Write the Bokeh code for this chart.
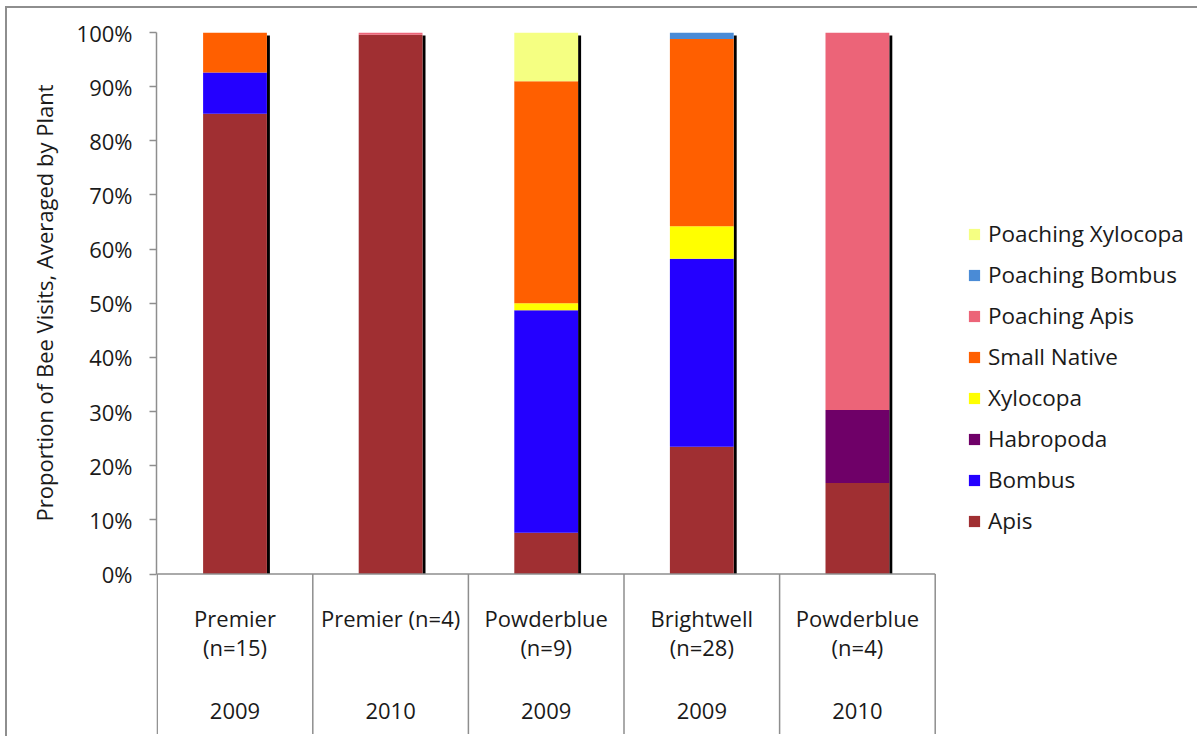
from bokeh.plotting import figure
from bokeh.models import (Range1d, FixedTicker, PrintfTickFormatter, ColumnDataSource,
                          Legend, LegendItem, Title)
from bokeh.core.properties import value
from bokeh.embed import file_html
from bokeh.resources import INLINE

# Plantings: cultivar, number of plants, year
cultivars = ["Premier", "Premier", "Powderblue", "Brightwell", "Powderblue"]
sample_sizes = [15, 4, 9, 28, 4]
years = ["2009", "2010", "2009", "2009", "2010"]

# Share of bee visits (%) per visitor group
series = ["Apis", "Bombus", "Habropoda", "Xylocopa", "Small Native",
          "Poaching Apis", "Poaching Bombus", "Poaching Xylocopa"]
apis = [85.0, 99.6, 7.6, 23.5, 16.8]
bombus = [7.6, 0.0, 41.1, 34.7, 0.0]
habropoda = [0.0, 0.0, 0.0, 0.0, 13.5]
xylocopa = [0.0, 0.0, 1.3, 6.0, 0.0]
small_native = [7.4, 0.0, 41.0, 34.6, 0.0]
poaching_apis = [0.0, 0.4, 0.0, 0.0, 69.7]
poaching_bombus = [0.0, 0.0, 0.0, 1.2, 0.0]
poaching_xylocopa = [0.0, 0.0, 9.0, 0.0, 0.0]

colors = ["#A02F32", "#2400FF", "#6F0068", "#FFFF00", "#FF5F00",
          "#EC6478", "#4A8BD6", "#F5FF82"]

y_title = "Proportion of Bee Visits, Averaged by Plant"

FONT = "Open Sans"
TEXT = "#1a1a1a"
RULE = "#8e8e8e"

# canvas geometry (px)
W, H = 1192, 730
FRAME_LEFT, FRAME_TOP = 149, 24
SLOT_PX = 155.6          # width of one category column
PX_PER_PCT = 5.415       # vertical scale
X0_SHIFT = 0.7           # keeps the x=0 rule inside the frame

n = len(cultivars)
xs = [i + 0.5 for i in range(n)]
bar_w = 0.41

frame_w = W - FRAME_LEFT
frame_h = H - FRAME_TOP
x_start = -X0_SHIFT / SLOT_PX
x_end = x_start + frame_w / SLOT_PX
y_end = 100
y_start = y_end - frame_h / PX_PER_PCT


def px_y(px):
    """vertical pixel distance expressed in percent units"""
    return px / PX_PER_PCT


# Category captions: wrap long ones onto two lines
line1, line2 = [], []
for c, s in zip(cultivars, sample_sizes):
    full = f"{c} (n={s})"
    if len(full) > 13:
        line1.append(c)
        line2.append(f"(n={s})")
    else:
        line1.append(full)
        line2.append("")

data = dict(x=xs, Apis=apis, Bombus=bombus, Habropoda=habropoda, Xylocopa=xylocopa)
data["Small Native"] = small_native
data["Poaching Apis"] = poaching_apis
data["Poaching Bombus"] = poaching_bombus
data["Poaching Xylocopa"] = poaching_xylocopa
source = ColumnDataSource(data)

p = figure(width=W, height=H, output_backend="svg", toolbar_location=None,
           x_range=Range1d(x_start, x_end), y_range=Range1d(y_start, y_end),
           x_axis_location=None,
           min_border_left=FRAME_LEFT, min_border_right=0, min_border_top=FRAME_TOP,
           min_border_bottom=0)
p.margin = (6, 0, 0, 5)
p.styles = {"border-top": f"2px solid {RULE}", "border-left": f"2px solid {RULE}"}
p.outline_line_color = None
p.xgrid.visible = False
p.ygrid.visible = False
p.background_fill_color = "white"
p.border_fill_color = "white"

# drop shadow on the right side of each column
totals = [sum(v) for v in zip(apis, bombus, habropoda, xylocopa, small_native,
                              poaching_apis, poaching_bombus, poaching_xylocopa)]
shadow = ColumnDataSource(dict(
    left=[x + bar_w / 2 for x in xs],
    right=[x + bar_w / 2 + 3 / SLOT_PX for x in xs],
    top=[t - px_y(3) for t in totals],
    bottom=[0] * n,
))
p.quad(left="left", right="right", top="top", bottom="bottom", source=shadow,
       fill_color="black", line_color=None)

renderers = p.vbar_stack(series, x="x", width=bar_w, color=colors, source=source,
                         line_color=None)

# table under the columns: baseline, separators, captions
table_bottom = -px_y(160)
bounds = list(range(n + 1))
p.segment(x0=[0], y0=[0], x1=[n], y1=[0], line_color=RULE, line_width=1.5)
p.segment(x0=bounds, y0=[0] * len(bounds), x1=bounds, y1=[table_bottom] * len(bounds),
          line_color=RULE, line_width=1.5)

labels = ColumnDataSource(dict(x=xs, l1=line1, l2=line2, yr=years))
for col, off in (("l1", 43.5), ("l2", 73), ("yr", 137)):
    p.text(x="x", y=-px_y(off), text=col, source=labels,
           text_align="center", text_baseline="middle",
           text_font=value(FONT), text_font_size="22px", text_color=TEXT)

# y axis
ya = p.yaxis[0]
ya.bounds = (0, 100)
ya.ticker = FixedTicker(ticks=list(range(0, 101, 10)), minor_ticks=[])
ya.formatter = PrintfTickFormatter(format="%d%%")
ya.axis_line_color = RULE
ya.axis_line_width = 1.5
ya.major_tick_line_color = RULE
ya.major_tick_line_width = 1.5
ya.major_tick_out = 7
ya.major_tick_in = 0
ya.minor_tick_line_color = None
ya.major_label_text_font = FONT
ya.major_label_text_font_size = "22px"
ya.major_label_text_color = TEXT
ya.major_label_standoff = 17

# y title, centred on the 0-100% span of the axis
p.add_layout(Title(text=y_title, align="right", offset=52, vertical_align="middle",
                   standoff=27, text_font=FONT, text_font_size="22px",
                   text_font_style="normal", text_color=TEXT), "left")

legend = Legend(
    items=[LegendItem(label=s, renderers=[r]) for s, r in reversed(list(zip(series, renderers)))],
    location=(811, 197), orientation="vertical",
    label_text_font=FONT, label_text_font_size="22.5px", label_text_color=TEXT,
    glyph_width=14, glyph_height=14, label_height=41, spacing=0, padding=0,
    margin=0, label_standoff=7, border_line_color=None, background_fill_alpha=0,
)
p.add_layout(legend)

open("out.html", "w").write(file_html(p, INLINE))
